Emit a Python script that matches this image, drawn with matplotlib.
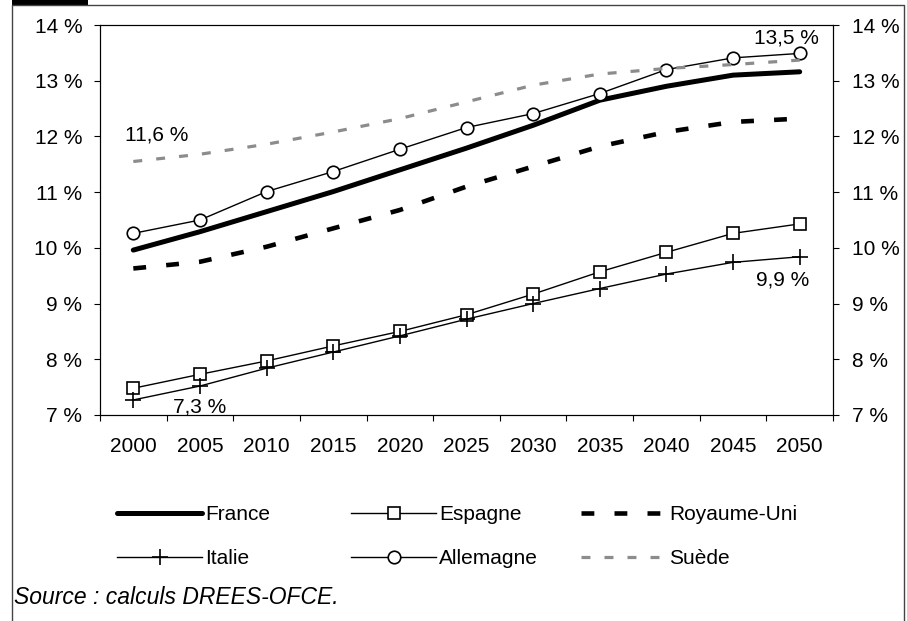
import matplotlib.pyplot as plt
from matplotlib.lines import Line2D
from matplotlib.patches import Rectangle

plt.rcParams['font.family'] = ['Liberation Sans', 'DejaVu Sans']

years = ['2000', '2005', '2010', '2015', '2020', '2025', '2030', '2035', '2040', '2045', '2050']
france = [9.96, 10.29, 10.65, 11.01, 11.40, 11.79, 12.20, 12.65, 12.90, 13.10, 13.16]
espagne = [7.48, 7.73, 7.97, 8.24, 8.50, 8.80, 9.17, 9.57, 9.92, 10.26, 10.43]
royaume_uni = [9.63, 9.75, 10.02, 10.35, 10.68, 11.10, 11.46, 11.82, 12.08, 12.26, 12.32]
italie = [7.27, 7.52, 7.84, 8.13, 8.42, 8.72, 9.00, 9.27, 9.53, 9.74, 9.84]
allemagne = [10.26, 10.50, 11.01, 11.37, 11.77, 12.16, 12.41, 12.77, 13.20, 13.41, 13.49]
suede = [11.55, 11.68, 11.86, 12.08, 12.32, 12.62, 12.92, 13.12, 13.22, 13.29, 13.37]

yticks = [7, 8, 9, 10, 11, 12, 13, 14]
ytick_labels = ['%d %%' % v for v in yticks]

W, H = 907, 621
FS = 15
fig = plt.figure(figsize=(W / 100, H / 100), dpi=100)
ax = fig.add_axes([100 / W, 1 - 415 / H, 733 / W, 390 / H])

x = list(range(len(years)))
ax.plot(x, france, color='black', lw=3.6, solid_capstyle='round', label='France')
ax.plot(x, espagne, color='black', lw=1.0, marker='s', ms=9, mfc='white', mew=1.2, label='Espagne')
ax.plot(x, royaume_uni, color='black', lw=3.3, dashes=(2.8, 4.4), dash_capstyle='butt', label='Royaume-Uni')
ax.plot(x, italie, color='black', lw=1.0, marker='+', ms=11, mew=1.2, label='Italie')
ax.plot(x, allemagne, color='black', lw=1.0, marker='o', ms=9, mfc='white', mew=1.2, label='Allemagne')
ax.plot(x, suede, color='#8c8c8c', lw=2.3, dashes=(2.8, 4.4), dash_capstyle='butt', label='Suède')

ax.set_xlim(-0.5, len(years) - 0.5)
ax.set_ylim(7, 14)
ax.set_xticks([i - 0.5 for i in range(len(years) + 1)])
ax.set_xticklabels([])
ax.set_xticks(x, minor=True)
ax.set_xticklabels(years, minor=True, fontsize=FS)
ax.tick_params(axis='x', which='major', length=4.3, width=0.8, direction='out')
ax.tick_params(axis='x', which='minor', length=0, pad=16)

ax.set_yticks(yticks)
ax.set_yticklabels(ytick_labels, fontsize=FS)
ax.tick_params(axis='y', length=4.3, width=0.8, pad=8.5)

ax2 = ax.twinx()
ax2.set_ylim(7, 14)
ax2.set_yticks(yticks)
ax2.set_yticklabels(ytick_labels, fontsize=FS)
ax2.tick_params(axis='y', length=4.3, width=0.8, pad=9.5)

for a in (ax, ax2):
    for s in a.spines.values():
        s.set_linewidth(0.8)

ax.text(0.35, 11.85, '11,6 %', fontsize=FS, ha='center', va='bottom')
ax.text(1.0, 6.98, '7,3 %', fontsize=FS, ha='center', va='bottom')
ax.text(9.8, 13.6, '13,5 %', fontsize=FS, ha='center', va='bottom')
ax.text(9.75, 9.6, '9,9 %', fontsize=FS, ha='center', va='top')

# légende : une colonne par bloc, comme dans l'original
handles, labels = ax.get_legend_handles_labels()
columns = [(0, 3, 117), (1, 4, 351), (2, 5, 581)]
for i, j, xpos in columns:
    leg = fig.legend([handles[i], handles[j]], [labels[i], labels[j]],
                     loc='center left', bbox_to_anchor=(xpos / W, 1 - 537 / H),
                     frameon=False, fontsize=FS, handlelength=4.1, handletextpad=0.12,
                     labelspacing=1.2, borderaxespad=0, borderpad=0)

fig.text(14 / W, 1 - 598 / H, 'Source : calculs DREES-OFCE.', fontsize=16.5,
         style='italic', ha='left', va='center')

# cadre et marque noire en haut à gauche
fig.add_artist(Line2D([12 / W, 12 / W, 904 / W, 904 / W], [0, 1 - 5 / H, 1 - 5 / H, 0],
                      color='#444444', lw=1.0))
fig.add_artist(Rectangle((12 / W, 1 - 5 / H), 76 / W, 5 / H, color='black', lw=0))

fig.savefig('out.png', dpi=100)
